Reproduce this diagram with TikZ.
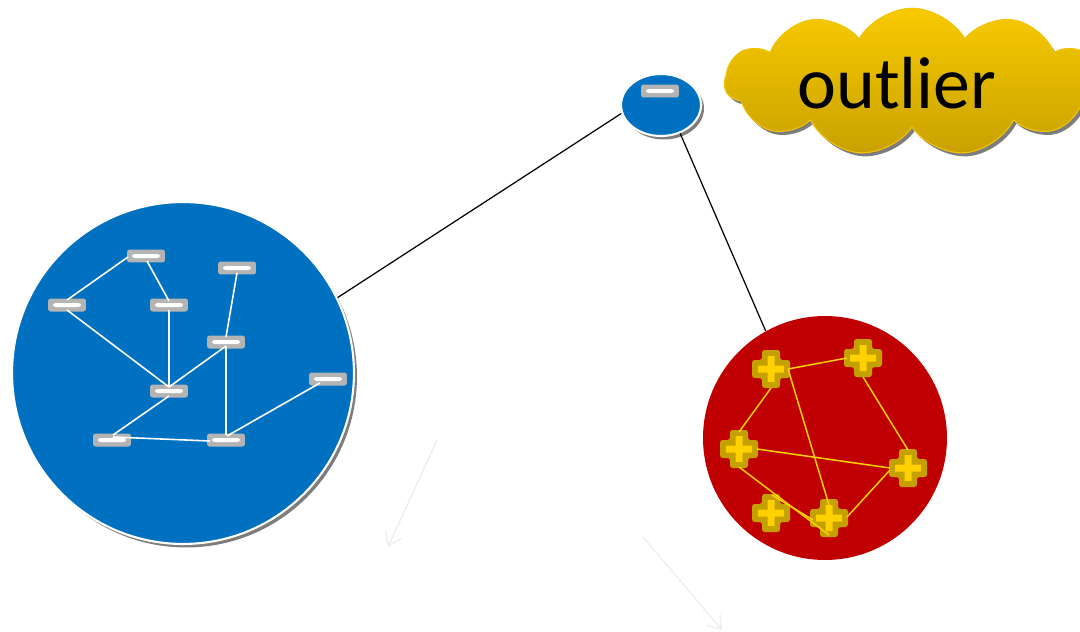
\documentclass[tikz,border=0pt]{standalone}
\usepackage{fontspec}
\newfontfamily\carl{Carlito}
\usetikzlibrary{shapes.symbols,shapes.geometric,shadows,calc,arrows.meta}
\definecolor{cblue}{HTML}{0070C0}
\definecolor{cred}{HTML}{C00000}
\definecolor{cgray}{HTML}{B4B4B4}
\definecolor{gdark}{HTML}{C4A000}
\definecolor{gyel}{HTML}{FFD100}
\definecolor{ctop}{HTML}{F7CA00}
\definecolor{cbot}{HTML}{C9A100}
\definecolor{cedge}{HTML}{F2C400}
\definecolor{faint}{HTML}{EEEEEE}
\begin{document}
\begin{tikzpicture}[x=0.02cm,y=-0.02cm,
  tag/.style={rectangle, rounded corners=1.5pt, fill=cgray, minimum width=0.76cm,
    minimum height=0.26cm, inner sep=0pt,
    path picture={\fill[white] ($(path picture bounding box.center)+(-0.28cm,-0.04cm)$) rectangle ($(path picture bounding box.center)+(0.28cm,0.04cm)$);}},
  wedge/.style={white, line width=0.9pt},
  yedge/.style={gyel, line width=0.85pt},
  plusbox/.style={rectangle, draw=none, minimum size=0.76cm, inner sep=0pt},
  conn/.style={black, line width=0.7pt},
  faintarrow/.style={faint, line width=0.8pt, -{Straight Barb[length=7pt,width=10pt]}},
  myshadow/.style={drop shadow={shadow xshift=0.06cm, shadow yshift=-0.07cm, opacity=0.6, fill=black!85}}
]
\useasboundingbox (0,0) rectangle (1080,632);
\clip (0,0) rectangle (1080,632);

% big blue cluster
\node[circle, fill=cblue, draw=white, line width=1.2pt, minimum size=6.84cm, myshadow] (blue) at (183,373) {};
% small outlier ellipse
\node[ellipse, fill=cblue, draw=white, line width=1.2pt, minimum width=1.6cm, minimum height=1.24cm, myshadow] (ell) at (661,105) {};
\node[tag] (etag) at (660,91) {};
% red cluster
\node[circle, fill=cred, minimum size=4.88cm] (red) at (825,438) {};

% connectors
\draw[conn] (ell.192) -- (blue.26);
\draw[conn] (ell.304) -- (red.119);

% blue cluster tags
\node[tag] (a) at (146,256) {};
\node[tag] (b) at (67,305) {};
\node[tag] (c) at (169,305) {};
\node[tag] (d) at (237,268) {};
\node[tag] (e) at (226,342) {};
\node[tag] (f) at (169,391) {};
\node[tag] (g) at (328,379) {};
\node[tag] (h) at (112,440) {};
\node[tag] (i) at (226,440) {};
\draw[wedge] ($(a)+(-18,1)$) -- ($(b)+(0,-5)$);
\draw[wedge] ($(a)+(1,5)$) -- ($(c)+(0,-4)$);
\draw[wedge] ($(c)+(0,5)$) -- ($(f)+(0,-4)$);
\draw[wedge] ($(b)+(0,5)$) -- ($(f)+(0,-4)$);
\draw[wedge] ($(f)+(0,-4)$) -- ($(e)+(0,4)$);
\draw[wedge] ($(e)+(0,-5)$) -- ($(d)+(0,5)$);
\draw[wedge] ($(e)+(0,4)$) -- ($(i)+(0,-5)$);
\draw[wedge] ($(f)+(0,5)$) -- ($(h)+(1,-5)$);
\draw[wedge] ($(h)+(1,-3)$) -- ($(i)+(-16,1)$);
\draw[wedge] ($(i)+(1,-4)$) -- ($(g)+(-8,4)$);

% red cluster crosses
\node[plusbox] (p1) at (771,369) {};
\node[plusbox] (p2) at (863,358) {};
\node[plusbox] (p3) at (739,449) {};
\node[plusbox] (p4) at (908,468) {};
\node[plusbox] (p5) at (771,513) {};
\node[plusbox] (p6) at (829,518) {};
\foreach \n in {p1,p2,p3,p4,p5,p6}{
  \begin{scope}[shift={(\n)}]
    \fill[gdark, rounded corners=1.5pt] (-9,-19) -- (9,-19) -- (9,-9) -- (19,-9) -- (19,9) -- (9,9) -- (9,19) -- (-9,19) -- (-9,9) -- (-19,9) -- (-19,-9) -- (-9,-9) -- cycle;
    \fill[gyel] (-3.5,-13) -- (3.5,-13) -- (3.5,-3.5) -- (13,-3.5) -- (13,3.5) -- (3.5,3.5) -- (3.5,13) -- (-3.5,13) -- (-3.5,3.5) -- (-13,3.5) -- (-13,-3.5) -- (-3.5,-3.5) -- cycle;
  \end{scope}
}
\draw[yedge] ($(p1)+(17,0)$) -- ($(p2)+(-16,0)$);
\draw[yedge] ($(p1)+(0,19)$) -- ($(p3)+(0,-17)$);
\draw[yedge] ($(p1)+(17,0)$) -- ($(p6)+(0,-13)$);
\draw[yedge] ($(p2)+(0,19)$) -- ($(p4)+(0,-18)$);
\draw[yedge] ($(p3)+(18,0)$) -- ($(p4)+(-18,0)$);
\draw[yedge] ($(p3)+(0,18)$) -- ($(p6)+(0,17)$);
\draw[yedge] ($(p4)+(-18,2)$) -- ($(p6)+(18,-1)$);
\draw[yedge] ($(p5)+(1,-18)$) -- ($(p6)+(-16,2)$);

% cloud
\node[cloud, cloud puffs=11, cloud puff arc=120, aspect=2.4, minimum width=7.5cm, minimum height=2.95cm,
  top color=ctop, bottom color=cbot, draw=cedge, line width=0.6pt, myshadow] (cloud) at (912,82) {};
\node[font=\carl\fontsize{42}{50}\selectfont, inner sep=0pt] (lbl) at (897,83) {outlier};

% faint arrows
\coordinate (f1s) at (437,440);
\coordinate (f1e) at (388,547);
\coordinate (f2s) at (643,537);
\coordinate (f2e) at (722,630);
\draw[faintarrow] (f1s) -- (f1e);
\draw[faintarrow] (f2s) -- (f2e);
\end{tikzpicture}
\end{document}
